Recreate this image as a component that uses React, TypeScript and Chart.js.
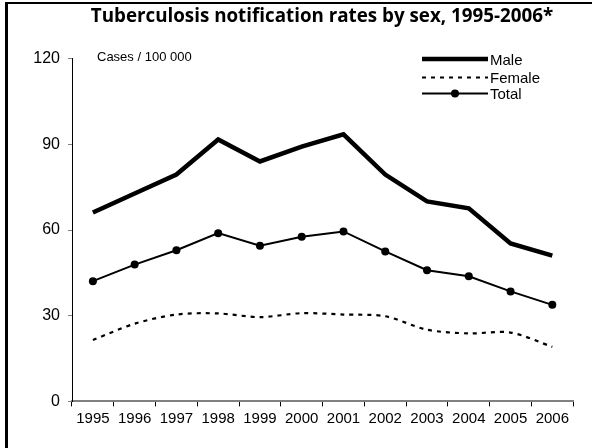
import React, { useEffect, useRef } from "react";
import { Chart, registerables } from "chart.js";

Chart.register(...registerables);

const years = ["1995", "1996", "1997", "1998", "1999", "2000", "2001", "2002", "2003", "2004", "2005", "2006"];
const male = [66.1, 72.8, 79.4, 91.7, 84.0, 89.2, 93.5, 79.4, 70.0, 67.6, 55.3, 51.0];
const female = [21.5, 27.2, 30.4, 30.8, 29.5, 30.9, 30.4, 29.8, 25.1, 23.8, 24.1, 19.1];
const total = [42.1, 47.9, 52.9, 58.9, 54.5, 57.6, 59.5, 52.5, 45.9, 43.8, 38.5, 33.8];
const yTicks = [0, 30, 60, 90, 120];
const titleText = "Tuberculosis notification rates by sex, 1995-2006*";
const unitText = "Cases / 100 000";
const seriesLabels = ["Male", "Female", "Total"];

const FONT = "'Liberation Sans', Arial, sans-serif";

const decorPlugin = {
  id: "decor",
  afterDraw(chart: any) {
    const ctx = chart.ctx as CanvasRenderingContext2D;
    const W = chart.width;
    ctx.save();
    // frame (top and left)
    ctx.fillStyle = "#000";
    ctx.fillRect(5, 2, W - 5, 2);
    ctx.fillRect(5, 2, 3, chart.height - 2);

    // title
    ctx.font = "bold 18.8px 'Open Sans', sans-serif";
    ctx.textAlign = "center";
    ctx.textBaseline = "middle";
    ctx.fillStyle = "#000";
    ctx.fillText(titleText, 322, 16.5);

    // unit text
    ctx.font = "13px " + FONT;
    ctx.textAlign = "left";
    ctx.fillText(unitText, 97, 57.5);

    // legend
    const rows = [59, 77.5, 93.5];
    const x0 = 422;
    const x1 = 488;
    chart.data.datasets.forEach((ds: any, i: number) => {
      const y = rows[i];
      ctx.save();
      ctx.strokeStyle = ds.borderColor;
      ctx.lineWidth = ds.borderWidth;
      ctx.setLineDash(ds.borderDash || []);
      ctx.beginPath();
      ctx.moveTo(x0, y);
      ctx.lineTo(x1, y);
      ctx.stroke();
      ctx.setLineDash([]);
      if (ds.pointRadius > 0) {
        ctx.fillStyle = ds.pointBackgroundColor;
        ctx.beginPath();
        ctx.arc((x0 + x1) / 2, y, ds.pointRadius, 0, Math.PI * 2);
        ctx.fill();
      }
      ctx.restore();
      ctx.font = "15px " + FONT;
      ctx.fillStyle = "#000";
      ctx.textAlign = "left";
      ctx.textBaseline = "middle";
      ctx.fillText(ds.label, x1 + 2, y + 1.5);
    });
    ctx.restore();
  },
};

export default function App() {
  const ref = useRef<HTMLCanvasElement | null>(null);

  useEffect(() => {
    document.body.style.margin = "0";
    const canvas = ref.current;
    if (!canvas) return;
    const chart = new Chart(canvas, {
      type: "line",
      data: {
        labels: years,
        datasets: [
          {
            label: seriesLabels[0],
            data: male,
            borderColor: "#000",
            backgroundColor: "#000",
            borderWidth: 4.5,
            pointRadius: 0,
            tension: 0,
          },
          {
            label: seriesLabels[1],
            data: female,
            borderColor: "#000",
            backgroundColor: "#000",
            borderWidth: 2.2,
            borderDash: [4, 5],
            pointRadius: 0,
            tension: 0.3,
          },
          {
            label: seriesLabels[2],
            data: total,
            borderColor: "#000",
            backgroundColor: "#000",
            pointBackgroundColor: "#000",
            borderWidth: 2,
            pointRadius: 4,
            pointBorderWidth: 0,
            tension: 0,
          },
        ],
      },
      options: {
        animation: false,
        responsive: false,
        devicePixelRatio: 1,
        layout: { padding: { top: 58.6, right: 18.8, left: 0, bottom: 0 } },
        plugins: {
          legend: { display: false },
          title: { display: false },
          tooltip: { enabled: false },
        },
        scales: {
          x: {
            type: "category",
            offset: true,
            afterFit: (s: any) => {
              s.height = 46.6;
            },
            grid: {
              offset: true,
              drawOnChartArea: false,
              drawTicks: true,
              tickLength: 5,
              tickColor: "#000",
              lineWidth: 1,
            },
            border: { display: true, color: "#808080", width: 2 },
            ticks: {
              color: "#000",
              font: { family: FONT, size: 15 },
              padding: 3,
              maxRotation: 0,
              autoSkip: false,
            },
          },
          y: {
            min: 0,
            max: 120,
            afterFit: (s: any) => {
              s.width = 72;
            },
            afterBuildTicks: (s: any) => {
              s.ticks = yTicks.map((v) => ({ value: v }));
            },
            grid: {
              drawOnChartArea: false,
              drawTicks: true,
              tickLength: 4,
              tickColor: "#808080",
            },
            border: { display: true, color: "#000", width: 1 },
            ticks: {
              color: "#000",
              font: { family: FONT, size: 16 },
              padding: 8,
            },
          },
        },
      },
      plugins: [decorPlugin],
    } as any);
    return () => chart.destroy();
  }, []);

  return (
    <div style={{ width: 592, height: 448, position: "relative", background: "#fff" }}>
      <canvas ref={ref} width={592} height={448} style={{ display: "block", width: 592, height: 448 }} />
    </div>
  );
}
